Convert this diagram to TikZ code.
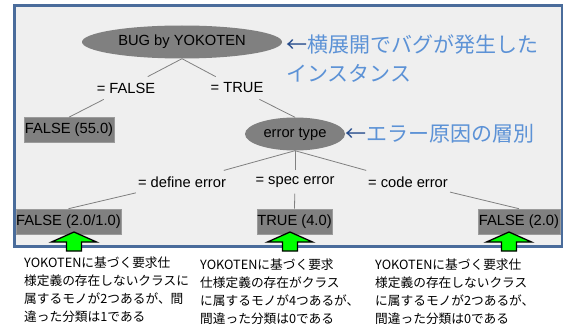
\documentclass[tikz,border=0pt]{standalone}
\usepackage{fontspec}
\setmainfont{Liberation Sans}
\newfontfamily\jpfont{Noto Sans CJK JP}
\usetikzlibrary{shapes.geometric}
\definecolor{bg}{RGB}{239,239,239}
\definecolor{frm}{RGB}{74,108,155}
\definecolor{nodegray}{RGB}{128,128,128}
\definecolor{leafedge}{RGB}{155,155,155}
\definecolor{edgegray}{RGB}{128,128,128}
\definecolor{annblue}{RGB}{92,146,214}
\definecolor{arrblue}{RGB}{38,76,140}
\definecolor{brightgreen}{RGB}{0,255,0}
\begin{document}
\begin{tikzpicture}[x=1pt,y=-1pt,
  ell/.style={ellipse, fill=nodegray, inner sep=0pt, font=\fontsize{14.7}{16}\selectfont},
  leaf/.style={rectangle, fill=nodegray, draw=leafedge, line width=0.6pt, inner sep=0pt, minimum height=25pt, font=\fontsize{14.7}{16}\selectfont},
  tlab/.style={inner xsep=2pt, inner ysep=6pt, font=\fontsize{14.7}{16}\selectfont},
  edge/.style={draw=edgegray, line width=0.8pt},
  upar/.style={fill=brightgreen, draw=black, line width=1.3pt, line join=miter},
  ann/.style={text=annblue, font=\jpfont\fontsize{21}{28}\selectfont, inner sep=0pt},
  note/.style={font=\jpfont\fontsize{12.7}{18}\selectfont, inner sep=0pt, align=left}
]
\useasboundingbox (0,0) rectangle (563,329);
% frame
\draw[frm, line width=3pt, fill=bg] (14,5.5) rectangle (562,246.5);

% tree nodes
\node[ell, minimum width=200pt, minimum height=33pt] (root) at (182,42) {BUG by YOKOTEN};
\node[tlab] (lf) at (126,88) {= FALSE};
\node[tlab] (lt) at (237,88) {= TRUE};
\node[leaf, minimum width=90pt] (f55) at (69,130) {FALSE (55.0)};
\node[ell, minimum width=100pt, minimum height=33pt] (et) at (295,134) {error type};
\node[tlab] (ld) at (182,182) {= define error};
\node[tlab] (ls) at (295,182) {= spec error};
\node[tlab] (lc) at (408,182) {= code error};
\node[leaf, minimum width=105pt] (b1) at (68.5,221.5) {FALSE (2.0/1.0)};
\node[leaf, minimum width=75pt] (b2) at (294.5,221.5) {TRUE (4.0)};
\node[leaf, minimum width=82pt] (b3) at (519,221.5) {FALSE (2.0)};

% edges
\draw[edge] (root.south) -- (lf);
\draw[edge] (root.south) -- (lt);
\draw[edge] (lf) -- (f55.north);
\draw[edge] (lt) -- (et.north);
\draw[edge] (et.south) -- (ld);
\draw[edge] (et.south) -- (ls);
\draw[edge] (et.south) -- (lc);
\draw[edge] (ld) -- (b1.north);
\draw[edge] (ls) -- (b2.north);
\draw[edge] (lc) -- (b3.north);

% annotations
\node[ann, anchor=west] (a1) at (286,45) {{\color{arrblue}←}横展開でバグが発生した};
\node[ann, anchor=west] (a2) at (286,73) {インスタンス};
\node[ann, anchor=west] (a3) at (345,134) {{\color{arrblue}←}エラー原因の層別};

% green arrows
\foreach \cx in {74,290,509}{
  \draw[upar] (\cx,232) -- (\cx+22.5,242) -- (\cx+7.5,242) -- (\cx+7.5,251)
    -- (\cx-7.5,251) -- (\cx-7.5,242) -- (\cx-22.5,242) -- cycle;
}

% notes
\node[note, anchor=north west] (n1) at (24,257) {YOKOTENに基づく要求仕\\様定義の存在しないクラスに\\属するモノが2つあるが、間\\違った分類は1である};
\node[note, anchor=north west] (n2) at (200,259) {YOKOTENに基づく要求\\仕様定義の存在がクラス\\に属するモノが4つあるが、\\間違った分類は0である};
\node[note, anchor=north west] (n3) at (375,259) {YOKOTENに基づく要求仕\\様定義の存在しないクラス\\に属するモノが2つあるが、\\間違った分類は0である};
\end{tikzpicture}
\end{document}
